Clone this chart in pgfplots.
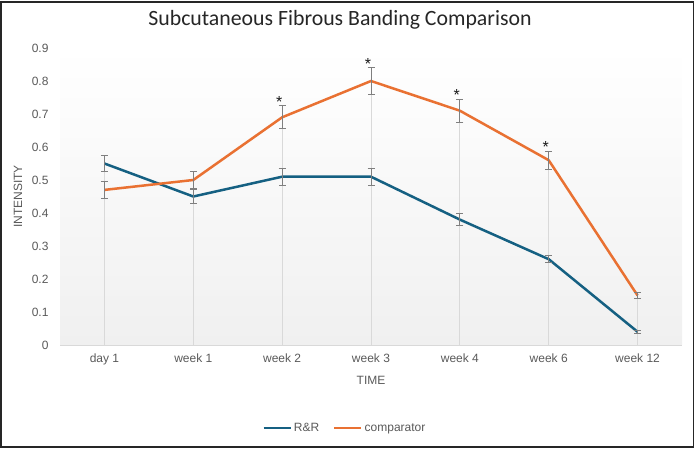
\documentclass[border=0pt]{standalone}
\usepackage{pgfplots}
\pgfplotsset{compat=1.18}
\usepackage{pgfplotstable}
\usepackage{fontspec}
\setmainfont{Liberation Sans}
\newfontfamily\titlefont{Carlito}

\definecolor{rrblue}{HTML}{156082}
\definecolor{comporange}{HTML}{E97132}
\definecolor{txtgray}{HTML}{595959}
\definecolor{errgray}{HTML}{7F7F7F}
\definecolor{dropgray}{HTML}{D9D9D9}
\definecolor{bggray}{HTML}{F0F0F0}

% mean intensity and error for both groups; top = highest mean per time point
\pgfplotstableread{
x   rr    rrerr  cmp   cmperr top
0   0.55  0.025  0.47  0.025  0.55
1   0.45  0.022  0.50  0.025  0.50
2   0.51  0.025  0.69  0.035  0.69
3   0.51  0.025  0.80  0.040  0.80
4   0.38  0.018  0.71  0.035  0.71
5   0.26  0.010  0.56  0.028  0.56
6   0.04  0.004  0.15  0.010  0.15
}\datatable

% significance markers, placed at the top of the comparator error bar
\pgfplotstableread{
x   y
2   0.725
3   0.840
4   0.745
5   0.588
}\sigtable

\begin{document}
\begin{tikzpicture}[x=1pt,y=1pt]
\useasboundingbox (0,0) rectangle (696,449);
\draw[line width=1.6pt, black!85] (0.8,2) rectangle (693.5,447.2);
\node[font=\titlefont\fontsize{21.8}{24}\selectfont, text=black!85] at (340,429) {Subcutaneous Fibrous Banding Comparison};
\begin{axis}[
  at={(60pt,104pt)}, anchor=south west,
  scale only axis, width=622pt, height=297pt,
  xmin=-0.5, xmax=6.5, ymin=0, ymax=0.9,
  xtick={0,...,6},
  xticklabels={day 1, week 1, week 2, week 3, week 4, week 6, week 12},
  ytick={0,0.1,0.2,0.3,0.4,0.5,0.6,0.7,0.8,0.9},
  yticklabel style={/pgf/number format/fixed, /pgf/number format/precision=1},
  /pgf/number format/assume math mode=true,
  tick label style={font=\fontsize{12}{14}\selectfont, text=txtgray},
  major tick length=0pt,
  axis x line*=bottom, axis y line*=left,
  x axis line style={dropgray, line width=0.8pt},
  y axis line style={draw=none},
  axis background/.style={shade, top color=white, bottom color=bggray},
  xticklabel style={yshift=-5pt},
  yticklabel style={xshift=-8pt},
  xlabel={TIME}, ylabel={INTENSITY},
  label style={font=\fontsize{12}{14}\selectfont, text=txtgray},
  xlabel style={at={(axis description cs:0.5,-0.118)}, anchor=center},
  ylabel style={at={(axis description cs:-0.0675,0.5)}, anchor=center},
  legend style={at={(0.458,-0.28)}, anchor=center, draw=none, fill=none,
    font=\fontsize{12}{14}\selectfont, text=txtgray,
    /tikz/every even column/.append style={column sep=12pt}},
  legend columns=2,
  legend image code/.code={\draw[#1] (0pt,0pt) -- (27pt,0pt);},
  clip=false,
]
% drop lines from the highest mean to the axis
\addplot[ycomb, dropgray, line width=1pt, mark=none, forget plot]
  table[x=x, y=top]{\datatable};

\addplot[rrblue, line width=2.5pt, line join=round, mark=none,
  error bars/.cd, y dir=both, y explicit,
  error bar style={errgray, line width=0.8pt},
  error mark options={rotate=90, mark size=3.5pt, errgray, line width=0.8pt}]
  table[x=x, y=rr, y error=rrerr]{\datatable};
\addlegendentry{R\&R}

\addplot[comporange, line width=2.5pt, line join=round, mark=none,
  error bars/.cd, y dir=both, y explicit,
  error bar style={errgray, line width=0.8pt},
  error mark options={rotate=90, mark size=3.5pt, errgray, line width=0.8pt}]
  table[x=x, y=cmp, y error=cmperr]{\datatable};
\addlegendentry{comparator}

% asterisks for significant differences
\addplot[draw=none, mark=none, forget plot,
  nodes near coords={*},
  nodes near coords style={anchor=south, inner sep=0pt, yshift=-2pt, xshift=-3pt,
    font=\fontsize{16}{16}\selectfont, text=black!90}]
  table[x=x, y=y]{\sigtable};
\end{axis}
\end{tikzpicture}
\end{document}
